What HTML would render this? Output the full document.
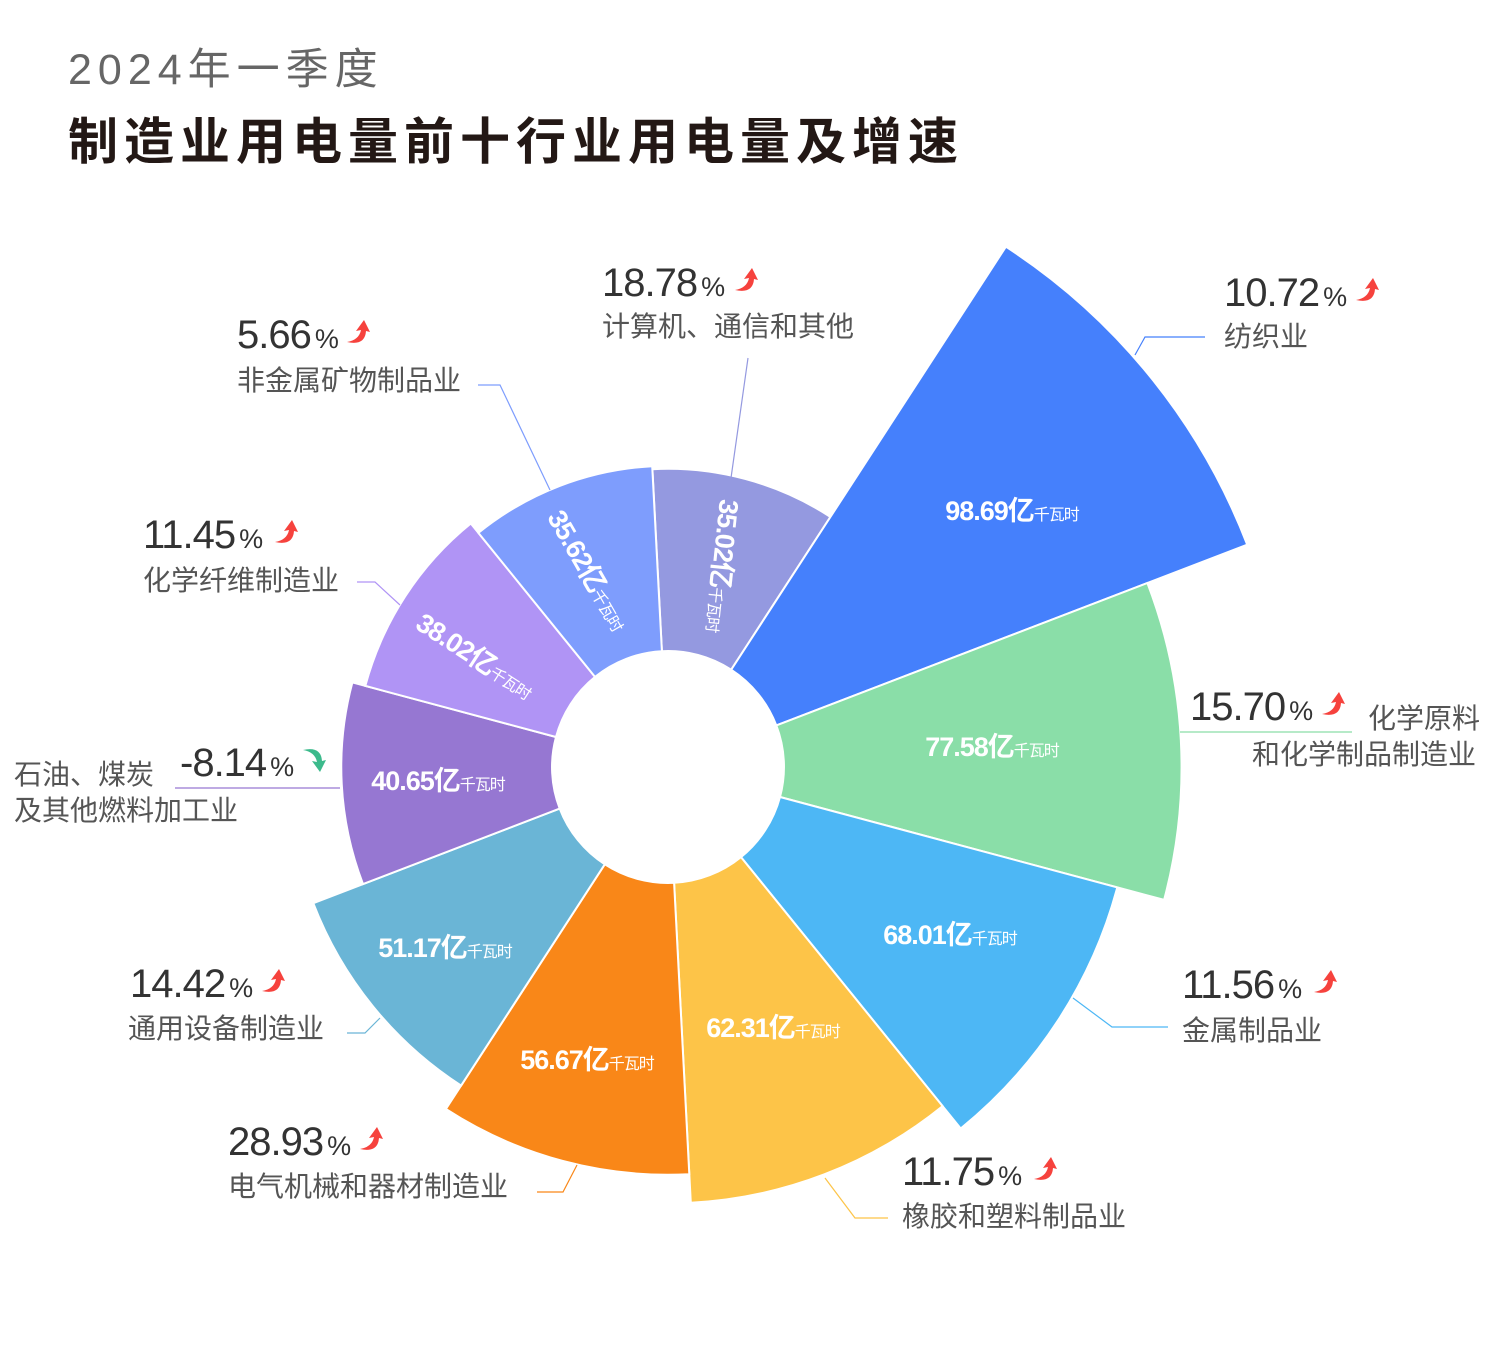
<!DOCTYPE html>
<html><head><meta charset="utf-8"><style>
html,body{margin:0;padding:0;background:#fff;}
body{width:1490px;height:1355px;overflow:hidden;font-family:"Liberation Sans","Noto Sans CJK SC",sans-serif;}
</style></head><body>
<svg id="s" width="1490" height="1355" viewBox="0 0 1490 1355" xmlns="http://www.w3.org/2000/svg" font-family="Liberation Sans, Noto Sans CJK SC, sans-serif">
<text x="68" y="84" font-size="43" fill="#666" letter-spacing="6">2024年一季度</text>
<text x="68" y="159" font-size="50" font-weight="bold" fill="#231815" letter-spacing="6" font-family="Noto Sans CJK SC, sans-serif">制造业用电量前十行业用电量及增速</text>
<g id="sec"></g>
<g id="lab"></g>
</svg>
<script>
var cx=668,cy=767,ri=116;
var d=[[35.02,'#9499e0'],[98.69,'#4580fc'],[77.58,'#8adea8'],[68.01,'#4db7f5'],[62.31,'#fdc448'],[56.67,'#f98718'],[51.17,'#6ab5d6'],[40.65,'#9677d2'],[38.02,'#b094f5'],[35.62,'#7e9dfd']];
function P(r,a){a=a*Math.PI/180;return [(cx+r*Math.sin(a)).toFixed(1),(cy-r*Math.cos(a)).toFixed(1)];}
var g='';
d.forEach(function(v,i){var a0=-3+36*i,a1=a0+36,R=121+5.06*v[0];
var p1=P(ri,a0),p2=P(R,a0),p3=P(R,a1),p4=P(ri,a1);
g+='<path d="M'+p1+'L'+p2+'A'+R+','+R+' 0 0 1 '+p3+'L'+p4+'A'+ri+','+ri+' 0 0 0 '+p1+'Z" fill="'+v[1]+'" stroke="#fff" stroke-width="2"/>';});
document.getElementById('sec').innerHTML=g;
var L='';
function val(x,y,rot,t){L+='<g transform="translate('+x+','+y+') rotate('+rot+')"><text x="0" y="0" fill="#fff" font-weight="bold" font-size="27" text-anchor="middle" style="letter-spacing:-1px">'+t+'<tspan font-size="16" font-weight="normal">千瓦时</tspan></text></g>';}
val(1012,520,0,'98.69亿');val(992,756,0,'77.58亿');val(950,944,0,'68.01亿');val(773,1037,0,'62.31亿');val(587,1069,0,'56.67亿');val(445,957,0,'51.17亿');val(438,790,0,'40.65亿');val(470,664,33,'38.02亿');val(580,575,60,'35.62亿');val(713,565,96,'35.02亿');
function arrow(x,y,up){if(up)return '<path d="M'+x+','+(y+14)+' Q'+(x+12)+','+(y+12)+' '+(x+14)+','+(y+2)+' L'+(x+9)+','+(y+3)+' L'+(x+17)+','+(y-8)+' L'+(x+23)+','+(y+4)+' L'+(x+19)+','+(y+3)+' Q'+(x+18)+','+(y+18)+' '+x+','+(y+14)+'Z" fill="#f6423d"/>';
return '<path d="M'+x+','+(y-6)+' Q'+(x+12)+','+(y-4)+' '+(x+14)+','+(y+6)+' L'+(x+9)+','+(y+5)+' L'+(x+17)+','+(y+16)+' L'+(x+23)+','+(y+4)+' L'+(x+19)+','+(y+5)+' Q'+(x+18)+','+(y-10)+' '+x+','+(y-6)+'Z" fill="#3cba8c"/>';}
function lab(x,y,num,lines,lx,up,ax){L+='<text x="'+x+'" y="'+y+'" font-size="40" fill="#333" style="letter-spacing:-1px">'+num+'<tspan font-size="27" dx="4">%</tspan></text>';
L+=arrow(ax,y-20,up);
lines.forEach(function(t){L+='<text x="'+t[1]+'" y="'+t[2]+'" font-size="28" fill="#555">'+t[0]+'</text>';});}
function line(pts,c){L+='<polyline points="'+pts+'" fill="none" stroke="'+c+'" stroke-width="1.2"/>';}
lab(602,296,'18.78',[['计算机、通信和其他',602,336]],0,1,735);line('748,358 731,478','#9499e0');
lab(1224,306,'10.72',[['纺织业',1224,346]],0,1,1356);line('1205,337 1145,337 1135,355','#4580fc');
lab(1190,720,'15.70',[['化学原料',1368,728],['和化学制品制造业',1252,764]],0,1,1322);line('1352,732 1180,732','#8adea8');
lab(1182,998,'11.56',[['金属制品业',1182,1040]],0,1,1314);line('1168,1027 1112,1027 1073,998','#4db7f5');
lab(902,1185,'11.75',[['橡胶和塑料制品业',902,1226]],0,1,1034);line('888,1218 855,1218 825,1178','#fdc448');
lab(228,1155,'28.93',[['电气机械和器材制造业',228,1196]],0,1,360);line('537,1192 563,1192 577,1165','#f98718');
lab(130,997,'14.42',[['通用设备制造业',128,1038]],0,1,262);line('347,1033 365,1033 380,1018','#6ab5d6');
lab(180,776,'-8.14',[['石油、煤炭',14,784],['及其他燃料加工业',14,820]],0,0,303);line('175,788 340,788','#9677d2');
lab(143,548,'11.45',[['化学纤维制造业',143,590]],0,1,275);line('357,582 375,582 400,605','#b094f5');
lab(237,348,'5.66',[['非金属矿物制品业',237,390]],0,1,347);line('478,385 500,385 550,490','#7e9dfd');
document.getElementById('lab').innerHTML=L;
</script>
</body></html>
